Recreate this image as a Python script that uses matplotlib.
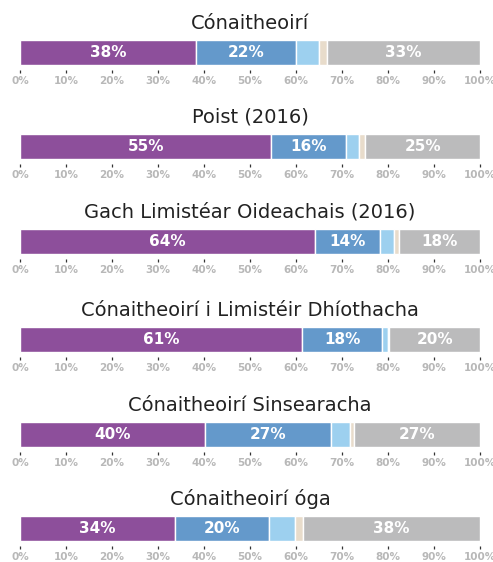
import matplotlib.pyplot as plt

# céatadáin de réir grúpa (corcra, gorm, gorm éadrom, béas, liath)
teidil = [
    "Cónaitheoirí",
    "Poist (2016)",
    "Gach Limistéar Oideachais (2016)",
    "Cónaitheoirí i Limistéir Dhíothacha",
    "Cónaitheoirí Sinsearacha",
    "Cónaitheoirí óga",
]
corcra = [38.2, 54.6, 64.2, 61.2, 40.2, 33.8]
gorm = [21.8, 16.2, 14.1, 17.6, 27.4, 20.3]
gorm_eadrom = [5.1, 2.9, 3.1, 1.2, 4.1, 5.7]
beas = [1.6, 1.4, 1.0, 0.3, 1.0, 1.8]
liath = [33.3, 24.9, 17.6, 19.7, 27.3, 38.4]

ticeanna = list(range(0, 101, 10))
lipeid_tic = [f"{t}%" for t in ticeanna]

DATHANNA = ["#8d4f9b", "#6499cb", "#9dd0ef", "#e8dccb", "#bbbbbc"]
LABEL_MIN = 10

W, H = 493, 562
fig = plt.figure(figsize=(W / 100, H / 100), dpi=100)

barr_top = [40, 134, 229, 327, 422, 516]
BAR_H = 25
GAP = 5

for i, teideal in enumerate(teidil):
    top = barr_top[i]
    ax = fig.add_axes([20 / W, 1 - (top + BAR_H + GAP) / H, 460 / W, (BAR_H + GAP) / H])
    luachanna = [corcra[i], gorm[i], gorm_eadrom[i], beas[i], liath[i]]
    left = 0
    for v, c in zip(luachanna, DATHANNA):
        ax.barh(GAP + BAR_H / 2, v, left=left, height=BAR_H, color=c,
                edgecolor="white", linewidth=1.0)
        if v >= LABEL_MIN:
            ax.text(left + v / 2, GAP + BAR_H / 2, f"{v:.0f}%", ha="center",
                    va="center", color="white", fontsize=11, fontweight="bold")
        left += v

    ax.set_xlim(0, 100)
    ax.set_ylim(0, GAP + BAR_H)
    ax.set_xticks(ticeanna)
    ax.set_xticklabels(lipeid_tic)
    ax.set_yticks([])
    ax.tick_params(axis="x", length=2.2, width=0.9, color="#333333", pad=2,
                   labelsize=7.5, labelcolor="#b8b8b8")
    for lbl in ax.get_xticklabels():
        lbl.set_fontweight("semibold")
    for s in ax.spines.values():
        s.set_visible(False)
    ax.set_title(teideal, fontsize=14, color="#222222", pad=8)

plt.savefig("out.png", dpi=100, facecolor="white")
